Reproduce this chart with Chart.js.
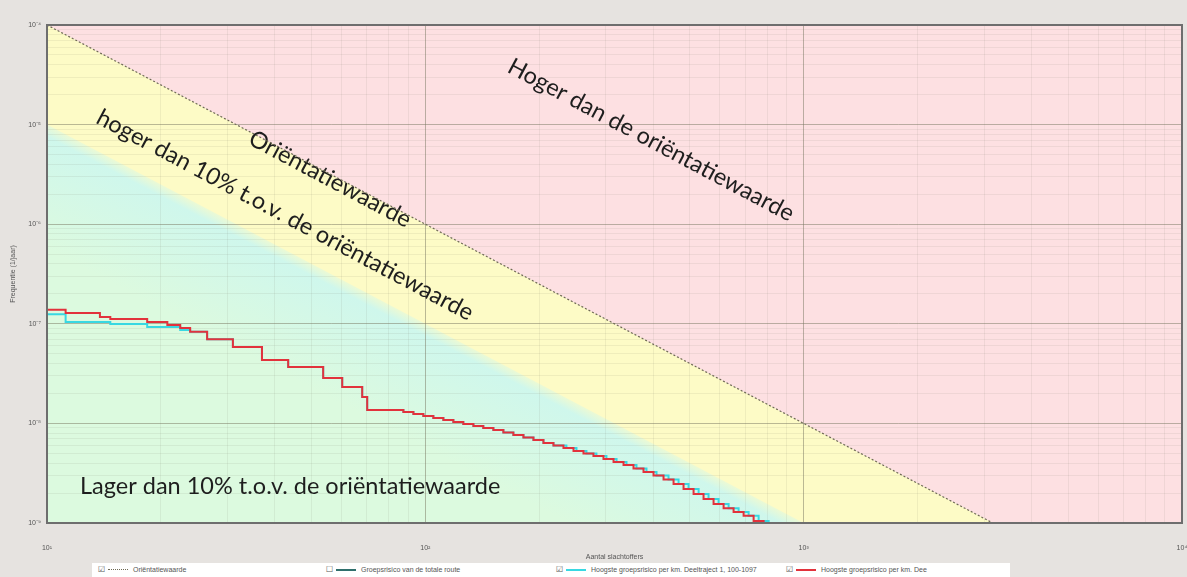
<!DOCTYPE html>
<html>
<head>
<meta charset="utf-8">
<script src="https://cdn.jsdelivr.net/npm/chart.js@4.4.1/dist/chart.umd.min.js"></script>
<style>
  html, body { margin: 0; padding: 0; background: #e6e3e0; }
  #wrap { position: relative; width: 1187px; height: 577px; overflow: hidden; }
  #fn { position: absolute; left: 0; top: 0; }
  #legend {
    position: absolute; left: 92px; top: 563px; width: 918px; height: 14px;
    background: #ffffff; font: 7px "Liberation Sans", Arial, sans-serif; color: #555;
  }
  .item { position: absolute; top: 2px; height: 9px; white-space: nowrap; }
  .box { position: absolute; top: 0; font: 8px "DejaVu Sans", sans-serif; color: #555; line-height: 9px; }
  .swatch { position: absolute; top: 4px; height: 0; width: 20px; }
  .txt { position: absolute; top: 0; line-height: 9px; }
</style>
</head>
<body>
<div id="wrap">
  <canvas id="fn" width="1187" height="577"></canvas>
  <div id="legend"></div>
</div>
<script>
// ---- axis ticks -----------------------------------------------------------
const xTickValues = [10, 100, 1000, 10000];
const xTickLabels = ['10\u00B9', '10\u00B2', '10\u00B3', '10\u2074'];
const yTickValues = [1e-9, 1e-8, 1e-7, 1e-6, 1e-5, 1e-4];
const yTickLabels = ['10\u207B\u2079', '10\u207B\u2078', '10\u207B\u2077', '10\u207B\u2076', '10\u207B\u2075', '10\u207B\u2074'];

// ---- norm lines (N, F) ------------------------------------------------------
const normN        = [10, 100, 1000, 10000];
const orientatieF  = [1e-4, 1e-6, 1e-8, 1e-10];   // oriëntatiewaarde
const tienProcentF = [1e-5, 1e-7, 1e-9, 1e-11];   // 10% van de oriëntatiewaarde

// ---- FN curve: hoogste groepsrisico per km, Dee... (red) -----------------------
const redN = [10, 11.2, 13.8, 14.7, 18.4, 20.8, 22.5, 23.9, 26.5, 31.0, 37.0, 43.4,
              53.7, 60.3, 68.1, 70.2,
              87.5, 93.0, 98.8, 105.0, 111.6, 118.6, 126.0, 134.0, 142.3, 151.3,
              160.8, 170.9, 181.7, 193.1, 205.2, 218.1, 231.8, 246.4, 261.8, 278.2,
              295.7, 314.4, 334.1, 355.0, 377.3, 401.0, 426.2, 453.0, 481.4, 511.7,
              543.7, 577.9, 614.3, 652.8, 693.8, 737.4, 783.8, 795];
const redF = [1.48e-7, 1.38e-7, 1.28e-7, 1.17e-7, 1.12e-7, 1.04e-7, 9.7e-8, 9.1e-8,
              8.3e-8, 7.0e-8, 5.85e-8, 4.33e-8, 3.68e-8, 2.86e-8, 2.32e-8, 1.84e-8,
              1.36e-8, 1.30e-8, 1.24e-8, 1.19e-8, 1.13e-8, 1.08e-8, 1.03e-8, 9.86e-9,
              9.42e-9, 8.99e-9, 8.59e-9, 8.11e-9, 7.65e-9, 7.22e-9, 6.81e-9, 6.36e-9,
              6.00e-9, 5.66e-9, 5.28e-9, 4.98e-9, 4.71e-9, 4.39e-9, 4.10e-9, 3.82e-9,
              3.53e-9, 3.25e-9, 3.00e-9, 2.73e-9, 2.46e-9, 2.19e-9, 1.96e-9, 1.74e-9,
              1.55e-9, 1.41e-9, 1.29e-9, 1.18e-9, 1.05e-9, 9e-10];

// ---- FN curve: hoogste groepsrisico per km, Deeltraject 1, 100-1097 (cyan) ----
const cyanN = [10, 11.2, 14.7, 18.4, 22.5, 23.9, 26.5, 31.0, 37.0, 43.4,
               53.7, 60.3, 68.1, 70.2,
               87.5, 93.0, 98.8, 105.0, 111.6, 118.6, 126.0, 134.0, 142.3, 151.3,
               160.8, 170.9, 181.7, 193.1, 205.2, 218.1, 236.0, 250.9, 266.6, 283.3,
               301.1, 320.2, 340.2, 361.5, 384.2, 408.4, 439.4, 467.0, 496.3, 527.6,
               560.5, 595.8, 633.3, 673.0, 715.3, 760.3, 808.1, 828];
const cyanF = [1.31e-7, 1.25e-7, 1.04e-7, 9.95e-8, 9.29e-8, 8.67e-8,
               8.3e-8, 7.0e-8, 5.85e-8, 4.33e-8, 3.68e-8, 2.86e-8, 2.32e-8, 1.84e-8,
               1.36e-8, 1.30e-8, 1.24e-8, 1.19e-8, 1.13e-8, 1.08e-8, 1.03e-8, 9.86e-9,
               9.42e-9, 8.99e-9, 8.59e-9, 8.11e-9, 7.65e-9, 7.22e-9, 6.81e-9, 6.36e-9,
               6.00e-9, 5.66e-9, 5.28e-9, 4.98e-9, 4.71e-9, 4.39e-9, 4.10e-9, 3.82e-9,
               3.53e-9, 3.25e-9, 3.00e-9, 2.73e-9, 2.46e-9, 2.19e-9, 1.96e-9, 1.74e-9,
               1.55e-9, 1.41e-9, 1.29e-9, 1.18e-9, 1.05e-9, 9e-10];

// ---- legend entries -------------------------------------------------------------
const legendLabels = ['Ori\u00EBntatiewaarde', 'Groepsrisico van de totale route',
  'Hoogste groepsrisico per km. Deeltraject 1, 100-1097', 'Hoogste groepsrisico per km. Dee'];
const legendChecked = [true, false, true, true];

const pts = (xs, ys) => xs.map((x, i) => ({ x, y: ys[i] }));

// majors plus the 2..9 sub-ticks of every decade (grid only)
function withMinor(majors) {
  const out = [];
  majors.forEach((m, i) => {
    out.push(m);
    if (i < majors.length - 1) for (let k = 2; k <= 9; k++) out.push(m * k);
  });
  return out;
}
const isMajor = (v) => Math.abs(Math.log10(v) - Math.round(Math.log10(v))) < 1e-6;
function labelFor(values, labels, v) {
  const i = values.findIndex(m => Math.abs(Math.log10(m) - Math.log10(v)) < 1e-6);
  return i >= 0 ? labels[i] : '';
}

const COL = {
  pink: '#fde0e2', yellow: '#fdfbc6', green: '#dcfadf', aqua: '#cff7ec',
  norm: '#6f6a55', cyan: '#38d8e2', red: '#e2323c', teal: '#2f6f6c',
  gridMajor: 'rgba(120,118,95,0.5)', gridMinor: 'rgba(120,118,95,0.10)'
};

// lower zone: aqua along the 10% line, fading into mint green
function lowerZoneFill(c) {
  const ch = c.chart;
  if (!ch.chartArea || !ch.scales.x) return COL.green;
  const xs = ch.scales.x, ys = ch.scales.y;
  const x1 = xs.getPixelForValue(normN[0]), y1 = ys.getPixelForValue(tienProcentF[0]);
  const x2 = xs.getPixelForValue(normN[2]), y2 = ys.getPixelForValue(tienProcentF[2]);
  const L = Math.hypot(x2 - x1, y2 - y1);
  const nx = -(y2 - y1) / L, ny = (x2 - x1) / L;
  const mx = (x1 + x2) / 2, my = (y1 + y2) / 2;
  const g = ch.ctx.createLinearGradient(mx - nx * 3, my - ny * 3, mx + nx * 110, my + ny * 110);
  g.addColorStop(0, 'rgba(207,247,236,0.2)');
  g.addColorStop(0.12, COL.aqua);
  g.addColorStop(1, COL.green);
  return g;
}

// text in the zones, rotated along the norm lines
const zoneText = {
  id: 'zoneText',
  beforeDatasetsDraw(chart) {
    const { ctx } = chart;
    const ang = 28 * Math.PI / 180;
    const items = [
      { t: 'Hoger dan de ori\u00EBntatiewaarde', x: 651, y: 140, a: ang },
      { t: 'Ori\u00EBntatiewaarde', x: 330, y: 179, a: ang },
      { t: 'hoger dan 10% t.o.v. de ori\u00EBntatiewaarde', x: 285, y: 215, a: ang },
      { t: 'Lager dan 10% t.o.v. de ori\u00EBntatiewaarde', x: 80, y: 486, a: 0, left: true }
    ];
    ctx.save();
    ctx.fillStyle = '#1e1e1e';
    ctx.font = '23.5px Lato, "Open Sans", sans-serif';
    ctx.textBaseline = 'middle';
    items.forEach(it => {
      ctx.save();
      ctx.translate(it.x, it.y);
      ctx.rotate(it.a);
      ctx.textAlign = it.left ? 'left' : 'center';
      ctx.fillText(it.t, 0, 0);
      ctx.restore();
    });
    ctx.restore();
  }
};

// frame around the plot
const frame = {
  id: 'frame',
  afterDraw(chart) {
    const { ctx, chartArea: a } = chart;
    ctx.save();
    ctx.strokeStyle = '#6e6e6e';
    ctx.lineWidth = 2;
    ctx.strokeRect(a.left, a.top, a.right - a.left, a.bottom - a.top);
    ctx.restore();
  }
};

const zoneBase = { borderWidth: 0, pointRadius: 0, tension: 0 };

new Chart(document.getElementById('fn'), {
  type: 'line',
  data: {
    datasets: [
      { ...zoneBase, data: pts(normN, orientatieF), fill: 'end', backgroundColor: COL.pink, order: 8 },
      { ...zoneBase, data: pts(normN, orientatieF), fill: 'start', backgroundColor: COL.yellow, order: 7 },
      { ...zoneBase, data: pts(normN, tienProcentF), fill: 'start', backgroundColor: lowerZoneFill, order: 6 },
      { data: pts(normN, orientatieF), borderColor: COL.norm, borderWidth: 1.2, borderDash: [2, 2],
        pointRadius: 0, fill: false, order: 2 },
      { data: pts(cyanN, cyanF), borderColor: COL.cyan, borderWidth: 2, stepped: 'after',
        pointRadius: 0, fill: false, order: 1 },
      { data: pts(redN, redF), borderColor: COL.red, borderWidth: 2, stepped: 'after',
        pointRadius: 0, fill: false, order: 0 }
    ]
  },
  options: {
    responsive: false,
    animation: false,
    events: [],
    layout: { padding: { left: 0, right: 5, top: 25, bottom: 0 } },
    plugins: {
      legend: { display: false },
      tooltip: { enabled: false },
      filler: { drawTime: 'beforeDraw' }
    },
    scales: {
      x: {
        type: 'logarithmic', min: 10, max: 10000,
        afterBuildTicks: s => { s.ticks = withMinor(xTickValues).map(v => ({ value: v })); },
        afterFit: s => { s.height = 54; s.paddingLeft = 0; s.paddingRight = 0; },
        ticks: {
          autoSkip: false, maxRotation: 0, padding: 21,
          color: '#555', font: { size: 7, family: '"Liberation Sans", Arial' },
          callback: v => labelFor(xTickValues, xTickLabels, v)
        },
        grid: {
          drawTicks: false,
          color: c => (c.tick && isMajor(c.tick.value)) ? COL.gridMajor : COL.gridMinor,
          lineWidth: 1
        },
        border: { color: '#6e6e6e', width: 2 },
        title: { display: true, text: 'Aantal slachtoffers', color: '#555',
                 font: { size: 7, family: '"Liberation Sans", Arial' }, padding: { top: 0, bottom: 16 } }
      },
      y: {
        type: 'logarithmic', min: 1e-9, max: 1e-4,
        afterBuildTicks: s => { s.ticks = withMinor(yTickValues).map(v => ({ value: v })); },
        afterFit: s => { s.width = 47; s.paddingTop = 0; s.paddingBottom = 0; },
        ticks: {
          autoSkip: false, padding: 6,
          color: '#555', font: { size: 7, family: '"Liberation Sans", Arial' },
          callback: v => labelFor(yTickValues, yTickLabels, v)
        },
        grid: {
          drawTicks: false,
          color: c => (c.tick && isMajor(c.tick.value)) ? COL.gridMajor : COL.gridMinor,
          lineWidth: 1
        },
        border: { color: '#6e6e6e', width: 2 },
        title: { display: true, text: 'Frequentie (1/jaar)', color: '#555',
                 font: { size: 7, family: '"Liberation Sans", Arial' }, padding: { top: 9, bottom: 0 } }
      }
    }
  },
  plugins: [zoneText, frame]
});

// ---- legend strip ----------------------------------------------------------------
(function buildLegend() {
  const lg = document.getElementById('legend');
  const lefts = [6, 234, 464, 694];           // item offsets inside the strip
  const styles = [
    'border-top:1px dotted ' + COL.norm,
    'border-top:2px solid ' + COL.teal,
    'border-top:2px solid ' + COL.cyan,
    'border-top:2px solid ' + COL.red
  ];
  legendLabels.forEach((txt, i) => {
    const it = document.createElement('div');
    it.className = 'item';
    it.style.left = lefts[i] + 'px';
    it.innerHTML =
      '<span class="box">' + (legendChecked[i] ? '\u2611' : '\u2610') + '</span>' +
      '<span class="swatch" style="left:10px;' + styles[i] + '"></span>' +
      '<span class="txt" style="left:35px">' + txt + '</span>';
    lg.appendChild(it);
  });
})();
</script>
</body>
</html>
